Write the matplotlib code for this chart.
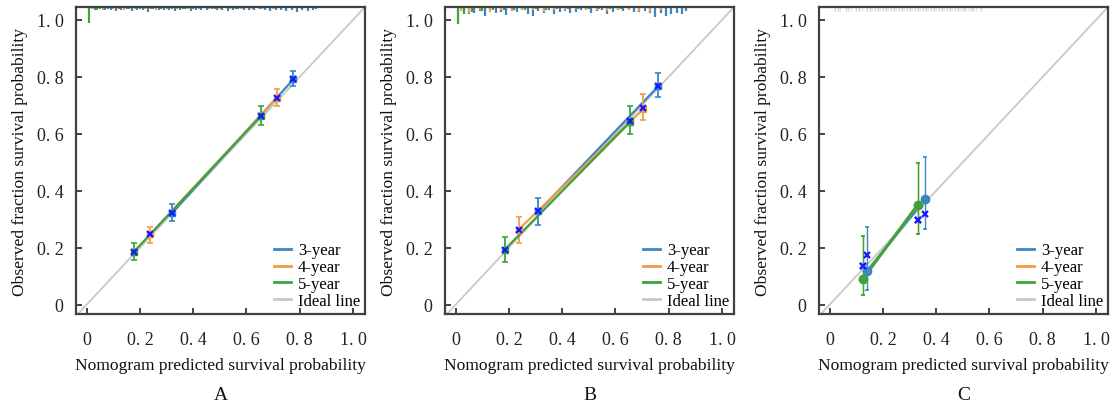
import matplotlib
matplotlib.use("Agg")
import matplotlib.pyplot as plt
from matplotlib.lines import Line2D

plt.rcParams['font.family'] = ['Liberation Serif', 'DejaVu Serif']

# ---------------- data ----------------
series_names = ["3-year", "4-year", "5-year"]
series_colors = ["#3a86c6", "#f39a4a", "#3aa63a"]
ideal_color = "#c8c8c8"
xmark_color = "#1a1aff"
tick_vals = [0, 0.2, 0.4, 0.6, 0.8, 1.0]
tick_labels = ["0", "0. 2", "0. 4", "0. 6", "0. 8", "1. 0"]
panel_letters = ["A", "B", "C"]

# Panel A: predicted, observed, error low, error high, corrected ("x") per series
A_pred = [[0.320, 0.776], [0.239, 0.713], [0.177, 0.654]]
A_obs = [[0.321, 0.791], [0.247, 0.724], [0.185, 0.662]]
A_lo = [[0.292, 0.766], [0.218, 0.698], [0.156, 0.631]]
A_hi = [[0.353, 0.820], [0.274, 0.756], [0.215, 0.698]]
A_corr = [[0.321, 0.791], [0.247, 0.724], [0.185, 0.662]]

# Panel B
B_pred = [[0.311, 0.760], [0.236, 0.704], [0.184, 0.654]]
B_obs = [[0.327, 0.766], [0.263, 0.687], [0.193, 0.640]]
B_lo = [[0.281, 0.730], [0.216, 0.648], [0.148, 0.599]]
B_hi = [[0.373, 0.812], [0.306, 0.741], [0.236, 0.698]]
B_corr = [[0.327, 0.766], [0.263, 0.690], [0.193, 0.645]]

# Panel C
C_pred = [[0.142, 0.358], [0.124, 0.331], [0.124, 0.331]]
C_obs = [[0.119, 0.371], [0.089, 0.351], [0.089, 0.351]]
C_lo = [[0.052, 0.266], [0.032, 0.248], [0.032, 0.248]]
C_hi = [[0.271, 0.517], [0.242, 0.497], [0.242, 0.497]]
C_corr = [[0.173, 0.318], [0.137, 0.297], [0.137, 0.297]]

# Rug (distribution of predicted values): positions and spike lengths
A_rug_x = [
    [0.03, 0.05, 0.07, 0.09, 0.11, 0.13, 0.15, 0.17, 0.19, 0.21, 0.23, 0.25, 0.27, 0.29,
     0.31, 0.33, 0.35, 0.37, 0.39, 0.41, 0.43, 0.45, 0.47, 0.49, 0.51, 0.53, 0.55, 0.57,
     0.59, 0.61, 0.63, 0.65, 0.67, 0.69, 0.71, 0.73, 0.75, 0.77, 0.79, 0.81, 0.83, 0.85, 0.86],
    [0.02, 0.06, 0.10, 0.14, 0.18, 0.22, 0.26, 0.30, 0.34, 0.38, 0.42, 0.46, 0.50, 0.54,
     0.58, 0.62, 0.66, 0.70, 0.74],
    [0.01, 0.04, 0.08, 0.12, 0.16, 0.20, 0.24, 0.28, 0.32, 0.36, 0.40, 0.44, 0.48, 0.52,
     0.56, 0.60, 0.64, 0.68],
]
A_rug_h = [
    [0.010, 0.008, 0.012, 0.009, 0.014, 0.010, 0.008, 0.015, 0.009, 0.011, 0.018, 0.008,
     0.010, 0.012, 0.009, 0.014, 0.011, 0.008, 0.013, 0.010, 0.009, 0.012, 0.008, 0.011,
     0.009, 0.013, 0.010, 0.008, 0.012, 0.009, 0.011, 0.008, 0.010, 0.013, 0.009, 0.012,
     0.014, 0.010, 0.016, 0.012, 0.013, 0.009, 0.007],
    [0.008, 0.010, 0.007, 0.009, 0.008, 0.006, 0.009, 0.007, 0.008, 0.006, 0.007, 0.008,
     0.006, 0.007, 0.008, 0.006, 0.007, 0.006, 0.005],
    [0.055, 0.009, 0.008, 0.007, 0.008, 0.006, 0.007, 0.006, 0.007, 0.006, 0.006, 0.005,
     0.006, 0.005, 0.006, 0.005, 0.005, 0.005],
]
B_rug_x = [
    [0.03, 0.05, 0.07, 0.09, 0.11, 0.13, 0.15, 0.17, 0.19, 0.21, 0.23, 0.25, 0.27, 0.29,
     0.31, 0.33, 0.35, 0.37, 0.39, 0.41, 0.43, 0.45, 0.47, 0.49, 0.51, 0.53, 0.55, 0.57,
     0.59, 0.61, 0.63, 0.65, 0.67, 0.69, 0.71, 0.73, 0.75, 0.77, 0.79, 0.81, 0.83, 0.85, 0.865],
    [0.02, 0.05, 0.09, 0.13, 0.17, 0.21, 0.25, 0.29, 0.33, 0.37, 0.41, 0.45, 0.49, 0.53,
     0.57, 0.61, 0.65, 0.69, 0.73, 0.77],
    [0.01, 0.03, 0.06, 0.10, 0.14, 0.18, 0.22, 0.26, 0.30, 0.34, 0.38, 0.42, 0.46, 0.50,
     0.54, 0.58, 0.62, 0.66],
]
B_rug_h = [
    [0.018, 0.025, 0.020, 0.015, 0.030, 0.012, 0.022, 0.016, 0.028, 0.014, 0.018, 0.010,
     0.024, 0.030, 0.015, 0.020, 0.012, 0.026, 0.018, 0.014, 0.022, 0.016, 0.012, 0.010,
     0.020, 0.014, 0.012, 0.024, 0.016, 0.010, 0.014, 0.012, 0.018, 0.016, 0.014, 0.020,
     0.035, 0.022, 0.030, 0.026, 0.020, 0.024, 0.014],
    [0.015, 0.020, 0.012, 0.018, 0.010, 0.014, 0.012, 0.010, 0.016, 0.012, 0.010, 0.008,
     0.012, 0.010, 0.014, 0.010, 0.012, 0.014, 0.016, 0.010],
    [0.060, 0.025, 0.018, 0.014, 0.012, 0.010, 0.012, 0.010, 0.008, 0.010, 0.008, 0.008,
     0.006, 0.008, 0.006, 0.006, 0.006, 0.005],
]
C_rug_x = [
    [0.02, 0.06, 0.10, 0.14, 0.17, 0.20, 0.23, 0.26, 0.29, 0.32, 0.35, 0.38, 0.41, 0.44,
     0.47, 0.50, 0.53, 0.57],
    [0.04, 0.08, 0.12, 0.16, 0.19, 0.22, 0.25, 0.28, 0.31, 0.34, 0.37, 0.40, 0.43, 0.46,
     0.49, 0.52, 0.55],
    [0.03, 0.07, 0.11, 0.15, 0.18, 0.21, 0.24, 0.27, 0.30, 0.33, 0.36, 0.39, 0.42, 0.45,
     0.48, 0.51, 0.54],
]
C_rug_h = [
    [0.015] * 18,
    [0.015] * 17,
    [0.015] * 17,
]

panels = [
    (A_pred, A_obs, A_lo, A_hi, A_corr, A_rug_x, A_rug_h),
    (B_pred, B_obs, B_lo, B_hi, B_corr, B_rug_x, B_rug_h),
    (C_pred, C_obs, C_lo, C_hi, C_corr, C_rug_x, C_rug_h),
]

# ---------------- figure ----------------
W, H = 1118, 406
fig = plt.figure(figsize=(W / 100, H / 100), dpi=100)
lefts = [76, 445, 819]
ax_w, ax_top, ax_bot = 289, 8, 315
lo_lim, hi_lim = -0.04, 1.045
spine_col = "#404040"

for pi, (pred, obs, lo, hi, corr, rx, rh) in enumerate(panels):
    ax = fig.add_axes([lefts[pi] / W, (H - ax_bot) / H, ax_w / W, (ax_bot - ax_top) / H])
    ax.set_xlim(lo_lim, hi_lim)
    ax.set_ylim(lo_lim + 0.007, hi_lim)
    ax.plot([lo_lim, hi_lim], [lo_lim, hi_lim], color=ideal_color, lw=1.3, zorder=1)

    is_c = pi == 2
    # rug
    for si in range(3):
        for xv, hv in zip(rx[si], rh[si]):
            ax.plot([xv, xv], [hi_lim, hi_lim - hv], color=series_colors[si],
                    lw=1.6 if not is_c else 1.0, alpha=1.0 if not is_c else 0.35,
                    solid_capstyle="butt", zorder=2)
    # lines, error bars, points
    for si in range(3):
        c = series_colors[si]
        ax.plot(pred[si], obs[si], color=c, lw=1.6 if not is_c else 2.0, zorder=3 + si)
        yerr = [[o - l for o, l in zip(obs[si], lo[si])],
                [h - o for o, h in zip(obs[si], hi[si])]]
        ax.errorbar(pred[si], obs[si], yerr=yerr, fmt="none", ecolor=c,
                    elinewidth=1.3 if not is_c else 1.0,
                    capsize=2.5 if not is_c else 1.2, capthick=1.2, zorder=3 + si)
        ax.plot(pred[si], obs[si], "o" if is_c else "s", color=c,
                ms=4 if not is_c else 6, zorder=6 + si)
        ax.plot(pred[si], corr[si], "x", color=xmark_color, ms=4.5, mew=1.6, zorder=10)

    for sp in ax.spines.values():
        sp.set_color(spine_col)
        sp.set_linewidth(1.6)
    ax.set_xticks(tick_vals)
    ax.set_xticklabels(tick_labels)
    ax.set_yticks(tick_vals)
    ax.set_yticklabels(tick_labels)
    ax.tick_params(axis="both", direction="in", length=4, width=1.2, color="#222222",
                   labelsize=13, labelcolor="#222222")
    ax.tick_params(axis="x", pad=12)
    ax.tick_params(axis="y", pad=9)
    ax.set_xlabel("Nomogram predicted survival probability", fontsize=12.6,
                  labelpad=7, color="#111111")
    ax.set_ylabel("Observed fraction survival probability", fontsize=12.6,
                  labelpad=6, color="#111111")

    handles = [Line2D([], [], color=series_colors[i], lw=2) for i in range(3)]
    handles.append(Line2D([], [], color=ideal_color, lw=2))
    ax.legend(handles, series_names + ["Ideal line"], loc="lower right",
              frameon=False, fontsize=12, handlelength=1.0, handletextpad=0.4,
              labelspacing=0.05, borderaxespad=0.0, borderpad=0.3)

    fig.text((lefts[pi] + ax_w / 2) / W, 1 - 396 / H, panel_letters[pi],
             ha="center", va="center", fontsize=14, color="#111111")

fig.savefig("out.png", dpi=100)
